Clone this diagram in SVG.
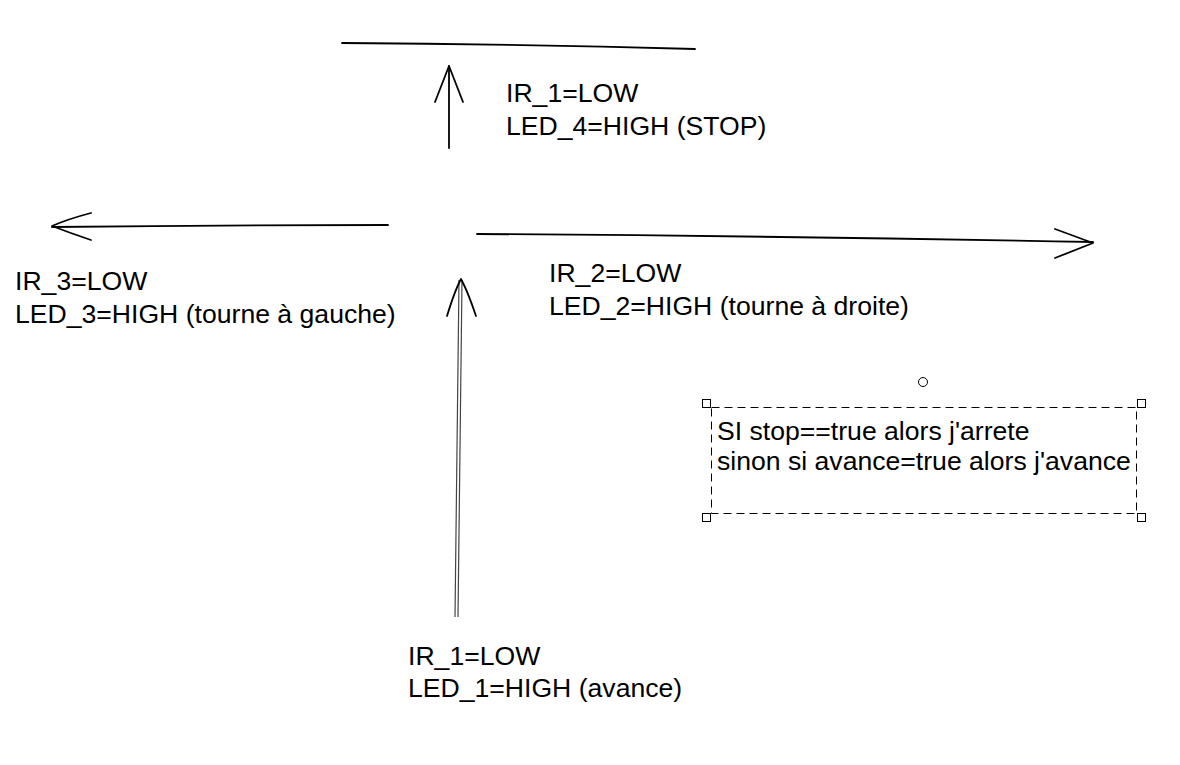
<svg xmlns="http://www.w3.org/2000/svg" width="1180" height="765" viewBox="0 0 1180 765">
<style>
.t{font-family:"Liberation Sans",Arial,sans-serif;font-size:26.6px;fill:#000}
.s{fill:none;stroke:#000;stroke-width:1.8;stroke-linecap:round;stroke-linejoin:round}
.d{fill:none;stroke:#444;stroke-width:1.2}
.h{fill:#fff;stroke:#000;stroke-width:1}
.sel{fill:none;stroke:#000;stroke-width:1;stroke-dasharray:8 5}
</style>
<rect width="1180" height="765" fill="#fff"/>
<g id="connectors">
<path class="s" d="M342,43 Q520,44 695,49"/>
<path class="s" d="M449,148 L449,66"/>
<path class="s" d="M435,102 L449,66 L463,102"/>
<path class="s" d="M388,225 Q220,225 52,227"/>
<path class="s" d="M91,213 Q68,219 52,226 Q70,233 91,240"/>
<path class="s" d="M477,234 Q780,236 1093,242"/>
<path class="s" d="M1055,229 L1093,243 L1055,258"/>
<path class="d" d="M455,617 L459,280"/>
<path class="d" d="M458,617 L462,280"/>
<path class="s" d="M447,316 Q455,290 461,279 Q468,292 476,316"/>
</g>
<g id="node-stop">
<text class="t" x="506" y="102">IR_1=LOW</text>
<text class="t" x="506" y="135">LED_4=HIGH (STOP)</text>
</g>
<g id="node-gauche">
<text class="t" x="15" y="290">IR_3=LOW</text>
<text class="t" x="15" y="323">LED_3=HIGH (tourne à gauche)</text>
</g>
<g id="node-droite">
<text class="t" x="549" y="282">IR_2=LOW</text>
<text class="t" x="549" y="315">LED_2=HIGH (tourne à droite)</text>
</g>
<g id="node-avance">
<text class="t" x="408" y="665">IR_1=LOW</text>
<text class="t" x="408" y="697">LED_1=HIGH (avance)</text>
</g>
<g id="node-note">
<rect class="sel" x="711.5" y="407.5" width="425" height="106"/>
<rect class="h" x="702.5" y="399.5" width="8" height="8"/>
<rect class="h" x="1137.5" y="399.5" width="8" height="8"/>
<rect class="h" x="702.5" y="513.5" width="8" height="8"/>
<rect class="h" x="1137.5" y="513.5" width="8" height="8"/>
<circle class="h" cx="923" cy="382" r="4.5"/>
<text class="t" x="717" y="440">SI stop==true alors j'arrete</text>
<text class="t" x="717" y="470">sinon si avance=true alors j'avance</text>
</g>
</svg>
